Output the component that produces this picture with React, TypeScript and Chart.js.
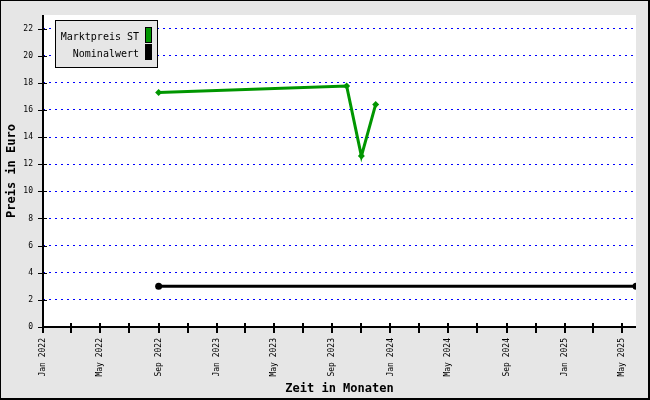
import React, { useEffect, useRef } from "react";
import { Chart, registerables } from "chart.js";

Chart.register(...registerables);

// ---- data ----
const AXIS_START = "2022-01-01";
const AXIS_END = "2025-05-31";
const marketDates = ["2022-09-01", "2023-10-01", "2023-11-01", "2023-12-01"];
const marketValues = [17.28, 17.77, 12.6, 16.41];
const nominalDates = ["2022-09-01", "2025-05-31"];
const nominalValues = [3, 3];
const seriesLabels = ["Marktpreis ST", "Nominalwert"];
const seriesColors = ["#009600", "#000000"];
const monthNames = ["Jan", "Feb", "Mar", "Apr", "May", "Jun", "Jul", "Aug", "Sep", "Oct", "Nov", "Dec"];
const tickMonthOffsets = [0, 2, 4, 6, 8, 10, 12, 14, 16, 18, 20, 22, 24, 26, 28, 30, 32, 34, 36, 38, 40];
const yTickValues = [0, 2, 4, 6, 8, 10, 12, 14, 16, 18, 20, 22];
const Y_MAX = 23;
const xTitle = "Zeit in Monaten";
const yTitle = "Preis in Euro";

const MONO = "'DejaVu Sans Mono', monospace";
const BG = "#e6e6e6";
const DAY = 86400000;
const base = Date.parse(AXIS_START);
const dayOf = (s: string) => (Date.parse(s) - base) / DAY;
const baseDate = new Date(base);
const tickDays = tickMonthOffsets.map(
  (m) => (Date.UTC(baseDate.getUTCFullYear(), baseDate.getUTCMonth() + m, 1) - base) / DAY
);
const tickLabels = tickMonthOffsets.map((m) => {
  if (m % 4 !== 0) return "";
  const d = new Date(Date.UTC(baseDate.getUTCFullYear(), baseDate.getUTCMonth() + m, 1));
  return `${monthNames[d.getUTCMonth()]} ${d.getUTCFullYear()}`;
});

const framePlugin = {
  id: "frame",
  beforeDraw(chart: any) {
    const { ctx, width, height, chartArea } = chart;
    ctx.save();
    ctx.fillStyle = BG;
    ctx.fillRect(0, 0, width, height);
    ctx.fillStyle = "#ffffff";
    ctx.fillRect(chartArea.left, chartArea.top, chartArea.right - chartArea.left, chartArea.bottom - chartArea.top);
    ctx.restore();
  },
  afterDraw(chart: any) {
    const { ctx, width, height, chartArea } = chart;
    const xs = chart.scales.x;
    const ys = chart.scales.y;
    ctx.save();
    ctx.strokeStyle = "#000";
    // axes
    ctx.lineWidth = 2;
    ctx.beginPath();
    ctx.moveTo(chartArea.left, chartArea.top);
    ctx.lineTo(chartArea.left, chartArea.bottom + 1);
    ctx.moveTo(chartArea.left - 1, chartArea.bottom);
    ctx.lineTo(chartArea.right, chartArea.bottom);
    ctx.stroke();
    // x ticks
    ctx.lineWidth = 2;
    ctx.beginPath();
    for (const t of xs.ticks) {
      const px = Math.round(xs.getPixelForValue(t.value));
      ctx.moveTo(px, chartArea.bottom - 4);
      ctx.lineTo(px, chartArea.bottom + 6);
    }
    ctx.stroke();
    // y ticks
    ctx.lineWidth = 1;
    ctx.beginPath();
    for (const t of ys.ticks) {
      const py = Math.round(ys.getPixelForValue(t.value)) + 0.5;
      ctx.moveTo(chartArea.left - 5, py);
      ctx.lineTo(chartArea.left + 4, py);
    }
    ctx.stroke();
    // legend
    const lx = 55.5, ly = 20.5, lw = 102, lh = 47;
    ctx.fillStyle = BG;
    ctx.fillRect(lx, ly, lw, lh);
    ctx.lineWidth = 1;
    ctx.strokeRect(lx, ly, lw, lh);
    ctx.font = `10px ${MONO}`;
    ctx.textAlign = "right";
    ctx.textBaseline = "middle";
    chart.data.datasets.forEach((ds: any, i: number) => {
      const cy = 37 + i * 17;
      ctx.fillStyle = "#000";
      ctx.fillText(ds.label, 139, cy);
      ctx.fillStyle = ds.borderColor;
      ctx.fillRect(145, cy - 10, 7, 16);
      ctx.strokeStyle = "#000";
      ctx.strokeRect(145.5, cy - 9.5, 6, 15);
    });
    // outer border
    ctx.fillStyle = "#000";
    ctx.fillRect(0, 0, width, 1);
    ctx.fillRect(0, 0, 1, height);
    ctx.fillRect(width - 2, 0, 2, height);
    ctx.fillRect(0, height - 2, width, 2);
    ctx.restore();
  },
};

export default function App() {
  const ref = useRef<HTMLCanvasElement | null>(null);
  useEffect(() => {
    if (!ref.current) return;
    const chart = new Chart(ref.current, {
      type: "line",
      data: {
        datasets: [
          {
            label: seriesLabels[0],
            data: marketDates.map((d, i) => ({ x: dayOf(d), y: marketValues[i] })),
            borderColor: seriesColors[0],
            backgroundColor: seriesColors[0],
            borderWidth: 3,
            pointStyle: "rectRot",
            pointRadius: 3.5,
            pointBorderWidth: 0,
            tension: 0,
          },
          {
            label: seriesLabels[1],
            data: nominalDates.map((d, i) => ({ x: dayOf(d), y: nominalValues[i] })),
            borderColor: seriesColors[1],
            backgroundColor: seriesColors[1],
            borderWidth: 3,
            pointStyle: "circle",
            pointRadius: 3.5,
            pointBorderWidth: 0,
            tension: 0,
          },
        ],
      },
      options: {
        animation: false,
        responsive: false,
        devicePixelRatio: 1,
        layout: { padding: { top: 15, right: 14, left: 0, bottom: 0 } },
        plugins: { legend: { display: false }, tooltip: { enabled: false } },
        scales: {
          x: {
            type: "linear",
            min: 0,
            max: dayOf(AXIS_END),
            afterBuildTicks: (scale: any) => {
              scale.ticks = tickDays.map((v) => ({ value: v }));
            },
            afterFit: (scale: any) => {
              scale.height = 73;
            },
            grid: { display: true, drawOnChartArea: false, drawTicks: false, color: "transparent" },
            border: { display: false },
            ticks: {
              autoSkip: false,
              minRotation: 90,
              maxRotation: 90,
              padding: 11,
              color: "#000",
              font: { family: MONO, size: 8 },
              callback: (_v: any, i: number) => tickLabels[i],
            },
            title: {
              display: true,
              text: xTitle,
              color: "#000",
              font: { family: MONO, size: 12, weight: "bold" },
              padding: { top: 0, bottom: 4 },
            },
          },
          y: {
            type: "linear",
            min: 0,
            max: Y_MAX,
            afterBuildTicks: (scale: any) => {
              scale.ticks = yTickValues.map((v) => ({ value: v }));
            },
            afterFit: (scale: any) => {
              scale.width = 43;
            },
            grid: {
              drawTicks: false,
              color: (c: any) => (c.tick && c.tick.value === 0 ? "transparent" : "#0000ff"),
              lineWidth: 1,
            },
            border: { display: false, dash: [2, 4] },
            ticks: {
              padding: 10,
              color: "#000",
              font: { family: MONO, size: 8 },
            },
            title: {
              display: true,
              text: yTitle,
              color: "#000",
              font: { family: MONO, size: 12, weight: "bold" },
              padding: { top: 5, bottom: 0 },
            },
          },
        },
      } as any,
      plugins: [framePlugin],
    });
    return () => chart.destroy();
  }, []);
  return (
    <div style={{ position: "absolute", left: 0, top: 0, width: 650, height: 400 }}>
      <canvas ref={ref} width={650} height={400} style={{ display: "block" }} />
    </div>
  );
}
